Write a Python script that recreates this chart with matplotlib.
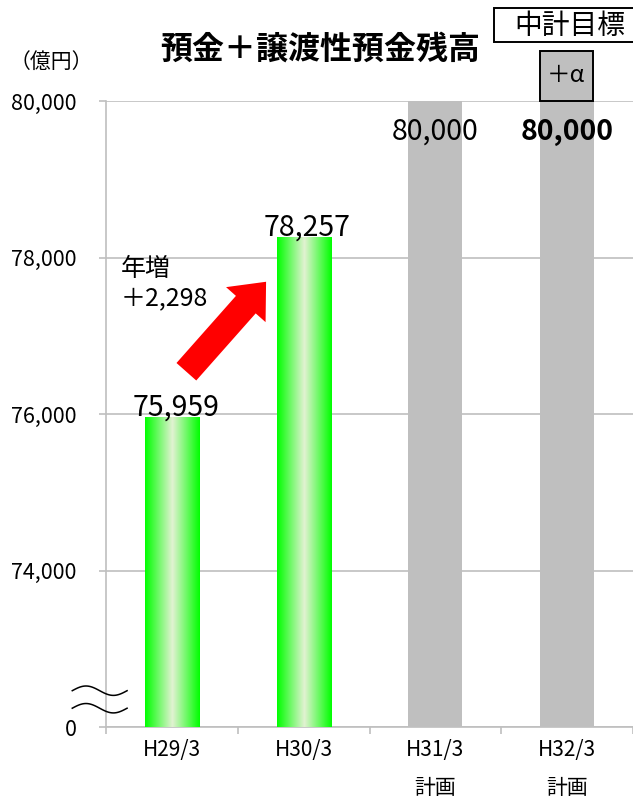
import matplotlib.pyplot as plt
import numpy as np
from matplotlib.colors import LinearSegmentedColormap
from matplotlib.patches import Rectangle

plt.rcParams['font.family'] = ['Noto Sans CJK JP', 'DejaVu Sans']

# 預金＋譲渡性預金残高（億円）
periods = ['H29/3', 'H30/3', 'H31/3\n計画', 'H32/3\n計画']
balances = [75959, 78257, 80000, 80000]
bar_labels = ['75,959', '78,257', '80,000', '80,000']
is_plan = [False, False, True, True]
yticks = [72000, 74000, 76000, 78000, 80000]
ytick_labels = ['0', '74,000', '76,000', '78,000', '80,000']
increase_text = '年増\n＋2,298'

GRID = '#BFBFBF'
PLAN = '#BFBFBF'
base = yticks[0]

fig = plt.figure(figsize=(6.33, 7.99), dpi=100)
ax = fig.add_axes([106 / 633, 72 / 799, 527 / 633, 626 / 799])

x = np.arange(len(periods))
heights = [v - base for v in balances]
bars = ax.bar(x, heights, bottom=base, width=0.41,
              color=[PLAN if p else 'none' for p in is_plan], zorder=3)

# green bars: bright edges fading to a pale centre
green = LinearSegmentedColormap.from_list('g', ['#00FF00', '#E2F2D2', '#00FF00'])
grad = np.linspace(0, 1, 256).reshape(1, -1)
for b, plan in zip(bars, is_plan):
    if plan:
        continue
    x0, y0 = b.get_x(), b.get_y()
    im = ax.imshow(grad, cmap=green, aspect='auto', zorder=3,
                   extent=[x0, x0 + b.get_width(), y0, y0 + b.get_height()])
    im.set_clip_path(b)

ax.set_xlim(-0.5, len(periods) - 0.5)
ax.set_ylim(yticks[0], yticks[-1])
ax.set_yticks(yticks)
ax.set_yticklabels(ytick_labels, fontsize=15.5)
ax.set_xticks(x)
ax.set_xticklabels(periods, fontsize=15, linespacing=1.9, va='top')
ax.set_xticks(np.arange(len(periods) + 1) - 0.5, minor=True)
ax.tick_params(axis='x', which='major', length=0, pad=9)
ax.tick_params(axis='x', which='minor', length=5, color=GRID, width=1.2)
ax.tick_params(axis='y', length=5, color=GRID, width=1.2, pad=16)
ax.grid(axis='y', color=GRID, linewidth=1.2, zorder=0)
ax.set_axisbelow(True)
for s in ['top', 'right']:
    ax.spines[s].set_visible(False)
for s in ['left', 'bottom']:
    ax.spines[s].set_color(GRID)
    ax.spines[s].set_linewidth(1.2)

# value labels
for i, (v, lab) in enumerate(zip(balances, bar_labels)):
    if is_plan[i]:
        ax.text(i, v - 390, lab, ha='center', va='center', fontsize=20.5,
                fontweight='bold' if i == 3 else 'normal', zorder=5)
    else:
        ax.text(i + 0.03, v + 120, lab, ha='center', va='center', fontsize=20.5, zorder=5)

# year-on-year increase
ax.text(-0.39, 78020, increase_text, ha='left', va='top', fontsize=18, linespacing=1.15)
ax.annotate('', xy=(0.715, 77690), xytext=(0.11, 76540),
            arrowprops=dict(arrowstyle='simple,head_length=22,head_width=38,tail_width=19',
                            mutation_scale=1, color='#FF0000', shrinkA=0, shrinkB=0,
                            lw=0), zorder=4)

# axis break mark
t = np.linspace(0, 1, 80)
wx = -0.064 + 0.104 * t
wy = 0.0075 * np.sin(2 * np.pi * t)
for off in (0.058, 0.030):
    ax.plot(wx, wy + off, color='black', lw=1.1, transform=ax.transAxes,
            clip_on=False, zorder=6)

# titles and target boxes
fig.text(320 / 633, 1 - 50 / 799, '預金＋譲渡性預金残高', ha='center', va='center',
         fontsize=23, fontweight='bold')
fig.text(10 / 633, 1 - 62 / 799, '（億円）', ha='left', va='center', fontsize=15)
fig.patches.append(Rectangle((494 / 633, 1 - 42 / 799), 145 / 633, 34 / 799,
                             transform=fig.transFigure, fc='white', ec='black', lw=1.4))
fig.text(570 / 633, 1 - 26 / 799, '中計目標', ha='center', va='center', fontsize=20)
fig.patches.append(Rectangle((540 / 633, 1 - 101 / 799), 53 / 633, 50 / 799,
                             transform=fig.transFigure, fc=PLAN, ec='black', lw=1.4))
fig.text(566 / 633, 1 - 76 / 799, '＋α', ha='center', va='center', fontsize=17)

fig.savefig('out.png', dpi=100)
